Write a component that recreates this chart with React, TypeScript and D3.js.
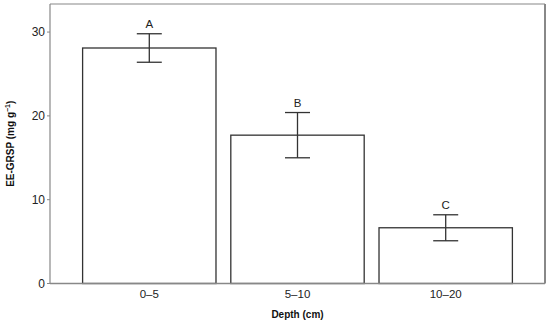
import React from "react";
import * as d3 from "d3";

const categories = ["0–5", "5–10", "10–20"];
const means = [28.1, 17.7, 6.65];
const errors = [1.7, 2.7, 1.55];
const letters = ["A", "B", "C"];
const yTicks = [0, 10, 20, 30];

const W = 550, H = 323;
const left = 50, right = 545, top = 4, bottom = 283.5;

export default function App() {
  const x = d3.scaleBand<string>().domain(categories).range([left, right]).paddingInner(0.1).paddingOuter(0.22);
  const y = d3.scaleLinear().domain([0, 33.35]).range([bottom, top]);
  const font = "Arial, 'Liberation Sans', Helvetica, sans-serif";
  return (
    <svg width={W} height={H} style={{ position: "absolute", left: 0, top: 0, background: "#fff" }} fontFamily={font}>
      <rect x={0} y={0} width={W} height={H} fill="#fff" />
      {/* frame */}
      <line x1={left} x2={right} y1={top} y2={top} stroke="#888" strokeWidth={1.2} />
      <line x1={right} x2={right} y1={top} y2={bottom} stroke="#888" strokeWidth={2} />
      {categories.map((c, i) => {
        const bx = x(c)!;
        const bw = x.bandwidth();
        const cx = bx + bw / 2;
        const yt = y(means[i]);
        const yHi = y(means[i] + errors[i]);
        const yLo = y(means[i] - errors[i]);
        return (
          <g key={c}>
            <rect x={bx} y={yt} width={bw} height={bottom - yt} fill="#fff" stroke="#333" strokeWidth={1.3} />
            <line x1={cx} x2={cx} y1={yHi} y2={yLo} stroke="#333" strokeWidth={1.3} />
            <line x1={cx - 12.5} x2={cx + 12.5} y1={yHi} y2={yHi} stroke="#333" strokeWidth={1.3} />
            <line x1={cx - 12.5} x2={cx + 12.5} y1={yLo} y2={yLo} stroke="#333" strokeWidth={1.3} />
            <text x={cx} y={yHi - 6} textAnchor="middle" fontSize={11.5} fill="#222">{letters[i]}</text>
            <text x={cx} y={298} textAnchor="middle" fontSize={11.5} fill="#222">{c}</text>
          </g>
        );
      })}
      {/* axes */}
      <line x1={left} x2={left} y1={top} y2={bottom} stroke="#888" strokeWidth={1.2} />
      <line x1={left} x2={right} y1={bottom} y2={bottom} stroke="#888" strokeWidth={1.5} />
      {yTicks.map((t) => (
        <g key={t}>
          <line x1={left - 3} x2={left} y1={y(t)} y2={y(t)} stroke="#888" strokeWidth={1} />
          <text x={left - 5} y={y(t) + 4.2} textAnchor="end" fontSize={12} fill="#222">{t}</text>
        </g>
      ))}
      <text x={(left + right) / 2} y={318} textAnchor="middle" fontSize={10} fontWeight="bold" fill="#111">Depth (cm)</text>
      <text transform={`translate(13.5, ${(top + bottom) / 2}) rotate(-90)`} textAnchor="middle" fontSize={10} fontWeight="bold" fill="#111">
        EE-GRSP (mg g<tspan dy={-4} fontSize={7}>−1</tspan><tspan dy={4}>)</tspan>
      </text>
    </svg>
  );
}
